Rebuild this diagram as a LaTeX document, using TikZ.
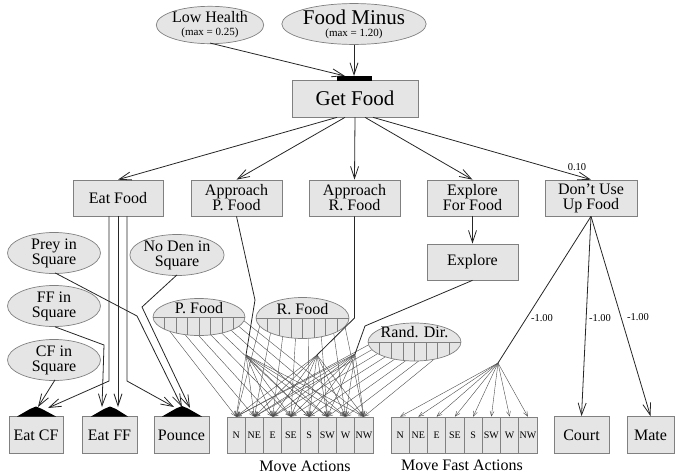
\documentclass[tikz,border=0pt]{standalone}
\usepackage{fontspec}
\setmainfont{Liberation Serif}
\usetikzlibrary{shapes.geometric,arrows.meta,backgrounds,calc}
\begin{document}
\begin{tikzpicture}[x=1pt,y=-1pt,
  box/.style={draw=gray, fill=gray!20, line width=0.7pt, inner sep=0pt, align=center,
    font=\fontsize{16}{15}\selectfont, minimum height=36pt},
  oval/.style={ellipse, draw=gray, fill=gray!20, line width=0.7pt, inner sep=0pt, align=center,
    font=\fontsize{16}{15}\selectfont},
  cell/.style={draw=gray, fill=gray!20, line width=0.7pt, inner sep=0pt,
    minimum width=18.25pt, minimum height=36pt, font=\fontsize{10}{10}\selectfont},
  conn/.style={line width=0.8pt, draw=black!85, -{Straight Barb[length=12pt,width=8pt]}},
  plain/.style={line width=0.8pt, draw=black!85},
  thin/.style={line width=0.4pt, draw=black!70, -{Straight Barb[length=5pt,width=4pt]}},
  wlab/.style={font=\fontsize{10.5}{11}\selectfont, inner sep=0pt},
  mound/.style={fill=black}
]
\useasboundingbox (0,0) rectangle (675,474);

% top
\node[oval, minimum width=94pt, minimum height=35pt] (low) at (210,25)
  {\fontsize{16}{14}\selectfont Low Health\\[-2pt]\fontsize{11}{11}\selectfont (max = 0.25)};
\node[oval, minimum width=130pt, minimum height=38pt] (fm) at (354,24)
  {\fontsize{21}{18}\selectfont Food Minus\\[-3pt]\fontsize{11}{11}\selectfont (max = 1.20)};
\node[box, minimum width=126pt, minimum height=37pt, font=\fontsize{21}{20}\selectfont] (get) at (355,98.5) {Get Food};
\fill (337,76) rectangle (372,80.5);
\coordinate (barL) at (345,76);
\coordinate (barM) at (354,76);

% second row
\node[box, minimum width=90pt] (eat) at (118,198) {Eat Food};
\node[box, minimum width=91pt] (apf) at (236.5,198) {Approach\\P. Food};
\node[box, minimum width=91pt] (arf) at (354.5,198) {Approach\\R. Food};
\node[box, minimum width=91pt] (eff) at (472.5,198) {Explore\\For Food};
\node[box, minimum width=92pt] (dnu) at (591,198) {Don’t Use\\Up Food};
\node[box, minimum width=91pt] (expl) at (472.5,262) {Explore};

% left ovals
\node[oval, minimum width=93pt, minimum height=35pt] (prey) at (54,253) {Prey in\\Square};
\node[oval, minimum width=92pt, minimum height=35pt] (den) at (177,255) {No Den in\\Square};
\node[oval, minimum width=93pt, minimum height=37pt] (ffs) at (54,306) {FF in\\Square};
\node[oval, minimum width=93pt, minimum height=36pt] (cfs) at (54,360) {CF in\\Square};

% partitioned ovals
\node[oval, minimum width=92pt, minimum height=37pt] (pfo) at (199,317) {};
\node[oval, minimum width=93pt, minimum height=41pt] (rfo) at (302.5,318) {};
\node[oval, minimum width=93pt, minimum height=38pt] (rdo) at (414.5,342) {};
\node[font=\fontsize{16}{15}\selectfont, inner sep=0pt] (pft) at (199,308) {P. Food};
\node[font=\fontsize{16}{15}\selectfont, inner sep=0pt] (rft) at (302.5,309) {R. Food};
\node[font=\fontsize{16}{15}\selectfont, inner sep=0pt] (rdt) at (414.5,332.5) {Rand. Dir.};
\foreach \o/\cx/\cy/\a/\b in {pfo/199/317/46/18.5, rfo/302.5/318/46.5/20.5, rdo/414.5/342/46.5/19}{
  \begin{scope}
    \clip (\cx,\cy) ellipse [x radius=\a, y radius=\b];
    \draw[draw=gray, line width=0.6pt] (\cx-\a,\cy) -- (\cx+\a,\cy);
    \foreach \k in {1,...,7}{
      \draw[draw=gray, line width=0.6pt] ({\cx-\a+\k*\a/4},\cy) -- ({\cx-\a+\k*\a/4},\cy+25);
    }
  \end{scope}
}

% bottom row
\node[box, minimum width=54pt, minimum height=37pt] (ecf) at (36,435) {Eat CF};
\node[box, minimum width=55pt, minimum height=37pt] (efF) at (109.5,435) {Eat FF};
\node[box, minimum width=55pt, minimum height=37pt] (pou) at (181.5,435) {Pounce};
\node[box, minimum width=55pt, minimum height=37pt] (court) at (581.5,435) {Court};
\node[box, minimum width=47pt, minimum height=37pt] (mate) at (650.5,435) {Mate};
\foreach \d [count=\i] in {N,NE,E,SE,S,SW,W,NW}{
  \node[cell] (m\i) at ({227+18.25*(\i-0.5)},435) {\d};
  \node[cell] (f\i) at ({391+18.25*(\i-0.5)},435) {\d};
}
\node[font=\fontsize{16}{15}\selectfont, inner sep=0pt] (mal) at (305,466) {Move Actions};
\node[font=\fontsize{16}{15}\selectfont, inner sep=0pt] (mfl) at (462,465) {Move Fast Actions};

% mounds
\fill[mound] (17,416.5) -- (30,409) -- (36,406.5) -- (42,409) -- (56,416.5) -- cycle;
\fill[mound] (91,416.5) -- (104,409) -- (110,406.5) -- (116,409) -- (128,416.5) -- cycle;
\fill[mound] (162,416.5) -- (176,408.5) -- (182,406) -- (188,408.5) -- (202,416.5) -- cycle;

% top connections
\draw[conn] (low.south) ++(0,-1) -- (barL);
\draw[conn] (fm.south) -- (barM);
\draw[conn] ($(get.south)+(-18,0)$) -- (eat.north);
\draw[conn] ($(get.south)+(-10,0)$) -- (apf.north);
\draw[conn] (get.south) -- (arf.north);
\draw[conn] ($(get.south)+(10,0)$) -- (eff.north);
\draw[conn] ($(get.south)+(18,0)$) -- (dnu.north);
\node[wlab] (w010) at (577,167) {0.10};
\draw[conn] (eff.south) -- (expl.north);

% eat food branches
\coordinate (tcf) at (48,408);
\coordinate (tff1) at (102,407);
\coordinate (tff2) at (118,407);
\coordinate (tp1) at (174,407);
\coordinate (tp2) at (182,407);
\coordinate (tp3) at (190,408);
\draw[conn] ($(eat.south)+(-9,0)$) -- (109,381) -- (tcf);
\draw[conn] (eat.south) -- (tff2);
\draw[conn] ($(eat.south)+(9,0)$) -- (127,381) -- (tp1);
\draw[conn] (cfs.south) ++(1,-1) -- (38,407);
\draw[conn] (ffs.south) ++(1,0) -- (104,345) -- (tff1);
\draw[conn] (prey.south) ++(1,-1) -- (137,316) -- (tp2);
\draw[conn] (den.south) ++(0,-1) -- (142,307) -- (tp3);

% fan points
\coordinate (fp) at (246,355);
\coordinate (fr) at (317,355);
\coordinate (fe) at (355,354);
\coordinate (ff) at (498,363);
\draw[plain] (apf.south) -- (255,300) -- (fp);
\draw[plain] (arf.south) -- (354.5,318) -- (fr);
\draw[plain] (expl.south) -- (365,326) -- (fe);
\draw[plain] (dnu.south) -- (ff);
\draw[conn] (dnu.south) -- (court.north);
\draw[conn] (dnu.south) -- (mate.north);
\node[wlab] (w1) at (542,318) {-1.00};
\node[wlab] (w2) at (600,318) {-1.00};
\node[wlab] (w3) at (638,317) {-1.00};

\foreach \i in {1,...,8}{
  \draw[thin] (fp) -- (m\i.north);
  \draw[thin] (fr) -- (m\i.north);
  \draw[thin] (fe) -- (m\i.north);
  \draw[thin] (ff) -- (f\i.north);
}
\begin{pgfonlayer}{background}
\foreach \i in {1,...,8}{
  \draw[thin] ($(pfo.center)+({-46+11.5*(\i-0.5)},0)$) -- (m\i.north);
  \draw[thin] ($(rfo.center)+({-46.5+11.625*(\i-0.5)},0)$) -- (m\i.north);
  \draw[thin] ($(rdo.center)+({-46.5+11.625*(\i-0.5)},0)$) -- (m\i.north);
}
\end{pgfonlayer}
\end{tikzpicture}
\end{document}
